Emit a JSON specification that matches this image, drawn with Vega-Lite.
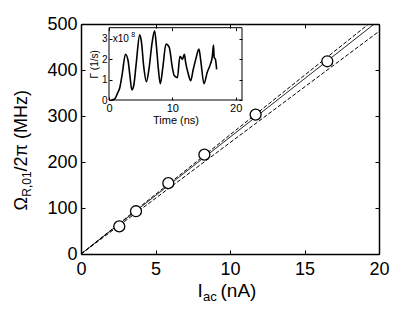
{
  "$schema": "https://vega.github.io/schema/vega-lite/v6.json",
  "width": 298,
  "height": 230,
  "autosize": {"type": "none"},
  "padding": {"left": 81, "top": 24, "right": 36, "bottom": 58},
  "background": "white",
  "datasets": {
    "points": [
      {"iac": 2.57, "omega": 60},
      {"iac": 3.69, "omega": 93},
      {"iac": 5.86, "omega": 154},
      {"iac": 8.28, "omega": 216},
      {"iac": 11.72, "omega": 303},
      {"iac": 16.53, "omega": 419}
    ],
    "lines": [
      {"series": "fit", "x": 0, "y": 0},
      {"series": "fit", "x": 20, "y": 508},
      {"series": "upper", "x": 0, "y": 0},
      {"series": "upper", "x": 20, "y": 518},
      {"series": "lower", "x": 0, "y": 0},
      {"series": "lower", "x": 20, "y": 484}
    ],
    "gamma": [
      {"t": 0.4, "g": 0},
      {"t": 0.9, "g": 0.05},
      {"t": 1.3, "g": 0.3},
      {"t": 1.7, "g": 0.6},
      {"t": 2.1, "g": 1.3},
      {"t": 2.6, "g": 2.25},
      {"t": 3.0, "g": 1.95},
      {"t": 3.3, "g": 1.2},
      {"t": 3.6, "g": 0.5},
      {"t": 3.9, "g": 0.7},
      {"t": 4.3, "g": 1.8},
      {"t": 4.85, "g": 3.2},
      {"t": 5.1, "g": 2.9},
      {"t": 5.5, "g": 1.6},
      {"t": 5.9, "g": 0.9},
      {"t": 6.3, "g": 1.5},
      {"t": 6.8, "g": 2.8},
      {"t": 7.2, "g": 3.4},
      {"t": 7.5, "g": 2.6},
      {"t": 7.8, "g": 1.5},
      {"t": 8.1, "g": 0.8},
      {"t": 8.5, "g": 1.6},
      {"t": 9.0, "g": 2.75},
      {"t": 9.5, "g": 2.6},
      {"t": 10.0, "g": 1.6},
      {"t": 10.3, "g": 1.2},
      {"t": 10.8, "g": 1.1},
      {"t": 11.2, "g": 2.15},
      {"t": 11.6, "g": 2.0},
      {"t": 11.9, "g": 2.25},
      {"t": 12.1, "g": 1.85},
      {"t": 12.5, "g": 1.3},
      {"t": 12.9, "g": 0.95},
      {"t": 13.3, "g": 1.5},
      {"t": 13.7, "g": 2.0},
      {"t": 14.2, "g": 2.5},
      {"t": 14.5, "g": 1.9},
      {"t": 15.0, "g": 0.8},
      {"t": 15.5, "g": 1.35},
      {"t": 16.0, "g": 1.75},
      {"t": 16.3, "g": 2.1},
      {"t": 16.5, "g": 2.7},
      {"t": 16.6, "g": 2.1},
      {"t": 16.8, "g": 2.0},
      {"t": 17.0, "g": 1.5}
    ],
    "one": [{}]
  },
  "layer": [
    {
      "layer": [
        {
          "data": {"name": "lines"},
          "mark": {"type": "line", "clip": true, "color": "black", "strokeWidth": 1},
          "encoding": {
            "x": {"field": "x", "type": "quantitative",
              "scale": {"domain": [0, 20], "nice": false, "zero": false},
              "axis": {"orient": "bottom", "values": [0, 5, 10, 15, 20], "tickSize": -4, "labelPadding": 10, "labelFontSize": 18, "labelFlush": false, "domain": true, "domainWidth": 1.5,
                "title": "I", "titleFontSize": 19, "titleAlign": "left", "titleBaseline": "alphabetic", "titleX": 116, "titleY": 42, "titleAngle": 0}},
            "y": {"field": "y", "type": "quantitative",
              "scale": {"domain": [0, 500], "nice": false, "zero": false},
              "axis": {"orient": "left", "values": [0, 100, 200, 300, 400, 500], "tickSize": -4, "labelPadding": 8, "labelFontSize": 18, "labelFlush": false, "domain": true, "domainWidth": 1.5,
                "title": "Ω", "titleFontSize": 18, "titleAlign": "left", "titleBaseline": "alphabetic", "titleAngle": 270, "titleX": -55, "titleY": 186}},
            "detail": {"field": "series", "type": "nominal"},
            "strokeDash": {"field": "series", "type": "nominal",
              "scale": {"domain": ["fit", "upper", "lower"], "range": [[1, 0], [4, 2], [4, 2]]}, "legend": null}
          }
        },
        {
          "data": {"name": "points"},
          "mark": {"type": "point", "shape": "circle", "size": 120, "filled": true, "fill": "white", "stroke": "black", "strokeWidth": 1.3, "opacity": 1},
          "encoding": {
            "x": {"field": "iac", "type": "quantitative"},
            "y": {"field": "omega", "type": "quantitative"}
          }
        }
      ]
    },
    {
      "data": {"name": "points"},
      "mark": {"type": "point", "opacity": 0},
      "encoding": {
        "x": {"field": "iac", "type": "quantitative", "scale": {"domain": [0, 20], "nice": false, "zero": false},
          "axis": {"orient": "top", "values": [0, 5, 10, 15, 20], "tickSize": -4, "labels": false, "domain": true, "domainWidth": 1.5, "title": null}},
        "y": {"field": "omega", "type": "quantitative", "scale": {"domain": [0, 500], "nice": false, "zero": false},
          "axis": {"orient": "right", "values": [0, 100, 200, 300, 400, 500], "tickSize": -4, "labels": false, "domain": true, "domainWidth": 1.5, "title": null}}
      }
    },
    {
      "data": {"name": "points"},
      "mark": {"type": "point", "opacity": 0},
      "encoding": {
        "x": {"field": "iac", "type": "quantitative", "scale": {"domain": [0, 20], "nice": false, "zero": false},
          "axis": {"orient": "bottom", "labels": false, "ticks": false, "domain": false,
            "title": "ac", "titleFontSize": 13, "titleAlign": "left", "titleBaseline": "alphabetic", "titleX": 121.5, "titleY": 46, "titleAngle": 0}},
        "y": {"field": "omega", "type": "quantitative", "scale": {"domain": [0, 500], "nice": false, "zero": false},
          "axis": {"orient": "left", "labels": false, "ticks": false, "domain": false,
            "title": "R,01", "titleFontSize": 12, "titleAlign": "left", "titleBaseline": "alphabetic", "titleAngle": 270, "titleX": -50.5, "titleY": 172.2}}
      }
    },
    {
      "data": {"name": "points"},
      "mark": {"type": "point", "opacity": 0},
      "encoding": {
        "x": {"field": "iac", "type": "quantitative", "scale": {"domain": [0, 20], "nice": false, "zero": false},
          "axis": {"orient": "bottom", "labels": false, "ticks": false, "domain": false,
            "title": "(nA)", "titleFontSize": 19, "titleAlign": "left", "titleBaseline": "alphabetic", "titleX": 139, "titleY": 42, "titleAngle": 0}},
        "y": {"field": "omega", "type": "quantitative", "scale": {"domain": [0, 500], "nice": false, "zero": false},
          "axis": {"orient": "left", "labels": false, "ticks": false, "domain": false,
            "title": "/2π (MHz)", "titleFontSize": 18, "titleAlign": "left", "titleBaseline": "alphabetic", "titleAngle": 270, "titleX": -55, "titleY": 146.9}}
      }
    },
    {
      "data": {"name": "one"},
      "mark": {"type": "point", "opacity": 0},
      "encoding": {
        "x": {"datum": 0, "type": "quantitative",
          "scale": {"domain": [0, 21], "range": [28, 161], "nice": false, "zero": false},
          "axis": {"orient": "top", "offset": -3.7, "values": [0, 10, 20], "tickSize": -3, "labels": false, "domain": false, "title": null}},
        "y": {"datum": 0, "type": "quantitative",
          "scale": {"domain": [0, 3.55], "range": [76, 3.7], "nice": false, "zero": false},
          "axis": {"orient": "right", "offset": -137, "values": [0, 1, 2, 3], "tickSize": -3, "labels": false, "domain": false, "title": null}}
      }
    },
    {
      "layer": [
        {
          "data": {"name": "one"},
          "mark": {"type": "rect", "fill": "transparent", "stroke": "black", "strokeWidth": 1},
          "encoding": {
            "x": {"datum": 0, "type": "quantitative",
              "scale": {"domain": [0, 21], "range": [28, 161], "nice": false, "zero": false},
              "axis": {"orient": "bottom", "offset": -154, "values": [0, 10, 20], "tickSize": -3, "labelPadding": 5, "labelFontSize": 11, "labelFlush": false, "domain": false,
                "title": "Time (ns)", "titleFontSize": 11, "titleFontWeight": "normal", "titlePadding": 1}},
            "x2": {"datum": 21},
            "y": {"datum": 0, "type": "quantitative",
              "scale": {"domain": [0, 3.55], "range": [76, 3.7], "nice": false, "zero": false},
              "axis": {"orient": "left", "offset": -28, "values": [0, 1, 2, 3], "format": "d", "tickSize": -3, "labelPadding": 5, "labelFontSize": 10, "labelFlush": false, "domain": false,
                "title": "Γ (1/s)", "titleFontSize": 10, "titleFontWeight": "normal", "titlePadding": 2}},
            "y2": {"datum": 3.55}
          }
        },
        {
          "data": {"name": "gamma"},
          "mark": {"type": "line", "color": "black", "strokeWidth": 1.6, "interpolate": "monotone"},
          "encoding": {
            "x": {"field": "t", "type": "quantitative"},
            "y": {"field": "g", "type": "quantitative"}
          }
        },
        {
          "data": {"name": "one"},
          "mark": {"type": "text", "text": "x10", "align": "left", "baseline": "alphabetic", "fontSize": 10, "color": "black"},
          "encoding": {
            "x": {"datum": 0.6, "type": "quantitative"},
            "y": {"datum": 2.85, "type": "quantitative"}
          }
        },
        {
          "data": {"name": "one"},
          "mark": {"type": "text", "text": "8", "align": "left", "baseline": "alphabetic", "fontSize": 7, "color": "black"},
          "encoding": {
            "x": {"datum": 3.5, "type": "quantitative"},
            "y": {"datum": 3.1, "type": "quantitative"}
          }
        }
      ]
    }
  ],
  "resolve": {"scale": {"x": "independent", "y": "independent", "strokeDash": "independent"}},
  "config": {
    "font": "Liberation Sans",
    "view": {"stroke": null},
    "axis": {"labelFont": "Liberation Sans", "titleFont": "Liberation Sans", "labelColor": "black", "titleColor": "black", "tickColor": "black", "domainColor": "black", "grid": false, "titleFontWeight": "normal", "tickWidth": 1}
  }
}
